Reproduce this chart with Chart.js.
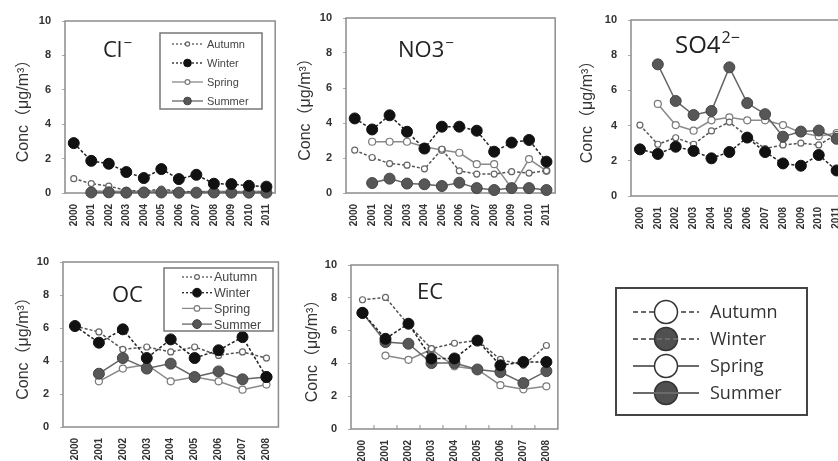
<!DOCTYPE html>
<html>
<head>
<meta charset="utf-8">
<script src="https://cdn.jsdelivr.net/npm/chart.js@4.4.1/dist/chart.umd.min.js"></script>
<style>
  html, body { margin: 0; padding: 0; background: #fff; }
  #wrap { position: relative; width: 838px; height: 461px; overflow: hidden; }
  canvas { position: absolute; }
</style>
</head>
<body>
<div id="wrap">
  <canvas id="cl" width="290" height="235" style="left:0;top:0"></canvas>
  <canvas id="no3" width="290" height="235" style="left:280px;top:0"></canvas>
  <canvas id="so4" width="300" height="235" style="left:560px;top:0"></canvas>
  <canvas id="oc" width="290" height="231" style="left:0;top:230px"></canvas>
  <canvas id="ec" width="280" height="231" style="left:290px;top:230px"></canvas>
  <canvas id="key" width="258" height="170" style="left:580px;top:270px"></canvas>
</div>
<script>
const years12 = ['2000', '2001', '2002', '2003', '2004', '2005', '2006', '2007', '2008', '2009', '2010', '2011'];
const years9 = ['2000', '2001', '2002', '2003', '2004', '2005', '2006', '2007', '2008'];
const seasons = ['Autumn', 'Winter', 'Spring', 'Summer'];
const yTicks = [0, 2, 4, 6, 8, 10];

// Cl-
const clAutumn = [0.83, 0.55, 0.4, 0.15, 0.1, 0.23, 0.1, 0.06, 0.05, 0.05, 0.05, 0.05];
const clWinter = [2.9, 1.87, 1.7, 1.22, 0.87, 1.39, 0.81, 1.06, 0.54, 0.52, 0.42, 0.37];
const clSpring = [null, 0.12, 0.1, 0.08, 0.1, 0.12, 0.08, 0.07, 0.1, 0.08, 0.08, 0.1];
const clSummer = [null, 0.03, 0.04, 0.02, 0.03, 0.03, 0.02, 0.02, 0.03, 0.02, 0.02, 0.02];

// NO3-
const no3Autumn = [2.45, 2.03, 1.68, 1.59, 1.38, 2.5, 1.27, 1.08, 1.08, 1.22, 1.14, 1.27];
const no3Winter = [4.26, 3.63, 4.44, 3.5, 2.54, 3.79, 3.79, 3.56, 2.36, 2.88, 3.03, 1.79];
const no3Spring = [null, 2.93, 2.93, 2.93, 2.64, 2.46, 2.3, 1.65, 1.65, 0.28, 1.94, 1.27];
const no3Summer = [null, 0.57, 0.82, 0.54, 0.5, 0.4, 0.59, 0.28, 0.17, 0.28, 0.28, 0.17];

// SO4 2-
const so4Autumn = [4.03, 2.94, 3.31, 2.94, 3.7, 4.2, 3.4, 2.7, 2.9, 3.0, 2.9, 3.5];
const so4Winter = [2.65, 2.39, 2.8, 2.56, 2.14, 2.5, 3.32, 2.5, 1.85, 1.72, 2.33, 1.45];
const so4Spring = [null, 5.23, 4.03, 3.71, 4.3, 4.47, 4.3, 4.3, 4.03, 3.6, 3.4, 3.58];
const so4Summer = [null, 7.48, 5.4, 4.6, 4.83, 7.31, 5.28, 4.65, 3.37, 3.66, 3.72, 3.25];

// OC
const ocAutumn = [6.12, 5.76, 4.7, 4.85, 4.55, 4.85, 4.34, 4.55, 4.18];
const ocWinter = [6.12, 5.11, 5.92, 4.18, 5.31, 4.18, 4.65, 5.45, 3.03];
const ocSpring = [null, 2.77, 3.54, 3.78, 2.77, 3.03, 2.77, 2.26, 2.57];
const ocSummer = [null, 3.23, 4.18, 3.54, 3.84, 3.03, 3.37, 2.89, 3.03];

// EC
const ecAutumn = [7.88, 8.02, 6.35, 4.9, 5.23, 5.39, 4.24, 3.88, 5.09];
const ecWinter = [7.08, 5.5, 6.42, 4.3, 4.3, 5.39, 3.88, 4.09, 4.09];
const ecSpring = [null, 4.48, 4.22, 4.85, 3.82, 3.63, 2.67, 2.42, 2.6];
const ecSummer = [7.08, 5.3, 5.2, 4.02, 4.02, 3.63, 3.47, 2.8, 3.53];

const seasonStyle = {
    Autumn: { borderColor: '#555555', borderDash: [3, 2], pointRadius: 3, pointBackgroundColor: '#ffffff', pointBorderColor: '#666666', pointBorderWidth: 1.2, order: 3 },
    Winter: { borderColor: '#222222', borderDash: [3, 2], pointRadius: 5.5, pointBackgroundColor: '#111111', pointBorderColor: '#111111', pointBorderWidth: 1, order: 1 },
    Spring: { borderColor: '#8a8a8a', borderDash: [], pointRadius: 3.5, pointBackgroundColor: '#ffffff', pointBorderColor: '#7a7a7a', pointBorderWidth: 1.2, order: 4 },
    Summer: { borderColor: '#666666', borderDash: [], pointRadius: 5.5, pointBackgroundColor: '#575757', pointBorderColor: '#444444', pointBorderWidth: 1, order: 2 },
};

const tickFont = { family: "'Liberation Sans', Arial, sans-serif", size: 11, weight: 'bold' };
const yearFont = { family: "'Liberation Sans', Arial, sans-serif", size: 10, weight: 'bold' };
const titleFamily = "'Open Sans', 'Noto Sans', sans-serif";

function makeDatasets(series) {
    return seasons.map((name, i) => Object.assign({
        label: name,
        data: series[i],
        borderWidth: 1.5,
        tension: 0,
        spanGaps: false,
        clip: false,
        pointHoverRadius: 0,
    }, seasonStyle[name]));
}

function drawLegend(ctx, L, datasets) {
    ctx.save();
    ctx.fillStyle = '#fff';
    ctx.fillRect(L.x, L.y, L.w, L.h);
    ctx.strokeStyle = L.frameColor;
    ctx.lineWidth = L.frameWidth;
    ctx.strokeRect(L.x, L.y, L.w, L.h);
    datasets.forEach((ds, i) => {
        const y = L.y + L.rowTop + i * L.rowH;
        const mx = (L.lineX0 + L.lineX1) / 2;
        const filled = ds.pointBackgroundColor !== '#ffffff';
        const r = L.radius ? L.radius : ds.pointRadius * L.markerScale;
        const line = () => {
            ctx.beginPath();
            ctx.setLineDash(ds.borderDash.length ? L.dash : []);
            ctx.strokeStyle = L.lineColor || ds.borderColor;
            ctx.lineWidth = L.lineWidth;
            ctx.moveTo(L.lineX0, y);
            ctx.lineTo(L.lineX1, y);
            ctx.stroke();
            ctx.setLineDash([]);
        };
        const mark = () => {
            ctx.beginPath();
            ctx.arc(mx, y, r, 0, Math.PI * 2);
            ctx.fillStyle = filled && L.fillColor ? L.fillColor : ds.pointBackgroundColor;
            ctx.fill();
            ctx.strokeStyle = L.markerStroke || ds.pointBorderColor;
            ctx.lineWidth = L.markerStrokeWidth || ds.pointBorderWidth;
            ctx.stroke();
        };
        if (filled && L.lineOverFilled) { mark(); line(); } else { line(); mark(); }
        ctx.fillStyle = L.textColor;
        ctx.font = L.font;
        ctx.textAlign = 'left';
        ctx.textBaseline = 'middle';
        ctx.fillText(ds.label, L.textX, y + 1);
    });
    ctx.restore();
}

const panelDecor = {
    id: 'panelDecor',
    beforeDatasetsDraw(chart, args, opts) {
        if (!opts.frame) return;
        const { ctx, chartArea: a } = chart;
        ctx.save();
        ctx.strokeStyle = '#8c8c8c';
        ctx.lineWidth = 1.5;
        ctx.strokeRect(a.left, a.top, a.right - a.left, a.bottom - a.top);
        if (opts.innerTicks) {
            const xs = chart.scales.x;
            ctx.lineWidth = 1;
            for (let i = 0; i < xs.ticks.length - 1; i++) {
                const px = (xs.getPixelForTick(i) + xs.getPixelForTick(i + 1)) / 2;
                ctx.beginPath();
                ctx.moveTo(px, a.bottom);
                ctx.lineTo(px, a.bottom - 4);
                ctx.stroke();
            }
        }
        ctx.restore();
    },
    afterDatasetsDraw(chart, args, opts) {
        const ctx = chart.ctx;
        if (opts.title) {
            const t = opts.title;
            ctx.save();
            ctx.fillStyle = '#222';
            ctx.textAlign = 'left';
            ctx.textBaseline = 'alphabetic';
            ctx.font = `${t.size}px ${titleFamily}`;
            ctx.fillText(t.main, t.x, t.y);
            const w = ctx.measureText(t.main).width;
            ctx.font = `${Math.round(t.size * 0.68)}px ${titleFamily}`;
            ctx.fillText(t.sup, t.x + w + 1, t.y - t.size * 0.42);
            ctx.restore();
        }
        if (opts.legend) drawLegend(ctx, opts.legend, chart.data.datasets);
    },
};

function panelOptions(p) {
    return {
        responsive: false,
        animation: false,
        events: [],
        layout: { padding: { top: p.padTop, right: p.padRight, left: 0, bottom: 0 } },
        plugins: {
            legend: { display: false },
            tooltip: { enabled: false },
            panelDecor: { frame: true, title: p.title, legend: p.legend || null, innerTicks: !!p.innerTicks },
        },
        scales: {
            x: {
                type: 'category',
                offset: true,
                grid: { display: false, drawTicks: false },
                border: { display: false },
                ticks: { minRotation: 90, maxRotation: 90, autoSkip: false, padding: 11, color: '#333', font: yearFont },
                afterFit: (s) => { s.height = p.xHeight; },
            },
            y: {
                min: 0,
                max: 10,
                afterBuildTicks: (s) => { s.ticks = yTicks.map(v => ({ value: v })); },
                grid: { display: true, drawOnChartArea: false, drawTicks: true, tickLength: 3, color: '#aaa' },
                border: { display: false },
                ticks: { padding: 11, color: '#333', font: tickFont },
                title: {
                    display: true,
                    text: 'Conc（μg/m³）',
                    color: '#333',
                    padding: { top: p.titleOffset, bottom: 0 },
                    font: { family: "'Liberation Sans', 'Noto Sans CJK JP', sans-serif", size: 16 },
                },
                afterFit: (s) => { s.width = p.yWidth; },
            },
        },
    };
}

function makePanel(id, labels, series, p) {
    return new Chart(document.getElementById(id), {
        type: 'line',
        data: { labels: labels, datasets: makeDatasets(series) },
        options: panelOptions(p),
        plugins: [panelDecor],
    });
}

makePanel('cl', years12, [clAutumn, clWinter, clSpring, clSummer], {
    padTop: 21, padRight: 14, yWidth: 65, xHeight: 42, titleOffset: 13.5,
    title: { main: 'Cl', sup: '−', size: 22, x: 103, y: 57 },
    legend: {
        x: 160, y: 33, w: 102, h: 76, rowTop: 11, rowH: 19,
        lineX0: 172, lineX1: 203, textX: 207, lineWidth: 1.3, dash: [2, 2], markerScale: 0.7,
        frameColor: '#777', frameWidth: 1.5, textColor: '#444',
        font: "11px 'Liberation Sans', Arial, sans-serif",
    },
});

makePanel('no3', years12, [no3Autumn, no3Winter, no3Spring, no3Summer], {
    padTop: 18, padRight: 13, yWidth: 66, xHeight: 42, titleOffset: 15.5,
    title: { main: 'NO3', sup: '−', size: 22, x: 118, y: 57 },
});

makePanel('so4', years12, [so4Autumn, so4Winter, so4Spring, so4Summer], {
    padTop: 20, padRight: 9, yWidth: 71, xHeight: 39, titleOffset: 17.5,
    title: { main: 'SO4', sup: '2−', size: 24, x: 115, y: 53 },
});

makePanel('oc', years9, [ocAutumn, ocWinter, ocSpring, ocSummer], {
    padTop: 32, padRight: 10, yWidth: 63, xHeight: 34, titleOffset: 13.5,
    title: { main: 'OC', sup: '', size: 22, x: 112, y: 72 },
    legend: {
        x: 164, y: 38, w: 109, h: 63, rowTop: 9, rowH: 15.7,
        lineX0: 182, lineX1: 212, textX: 214, lineWidth: 1.3, dash: [2, 2], markerScale: 0.8,
        frameColor: '#777', frameWidth: 1.5, textColor: '#444',
        font: "12.5px 'Liberation Sans', Arial, sans-serif",
    },
});

makePanel('ec', years9, [ecAutumn, ecWinter, ecSpring, ecSummer], {
    padTop: 35, padRight: 11, yWidth: 61, xHeight: 32, titleOffset: 12.5, innerTicks: true,
    title: { main: 'EC', sup: '', size: 22, x: 127, y: 69 },
});

// stand-alone key on the right
new Chart(document.getElementById('key'), {
    type: 'line',
    data: { labels: [], datasets: makeDatasets([[], [], [], []]) },
    options: {
        responsive: false,
        animation: false,
        events: [],
        plugins: {
            legend: { display: false },
            tooltip: { enabled: false },
            panelDecor: {
                frame: false,
                title: null,
                legend: {
                    x: 36, y: 18, w: 191, h: 127, rowTop: 24, rowH: 27,
                    lineX0: 53, lineX1: 119, textX: 130, lineWidth: 2.2, dash: [5, 3],
                    radius: 11.5, lineColor: '#6a6a6a', fillColor: '#505050', markerStroke: '#333', markerStrokeWidth: 1.5,
                    lineOverFilled: true, frameColor: '#444', frameWidth: 2, textColor: '#333',
                    font: "18px 'Open Sans', 'Noto Sans', sans-serif",
                },
            },
        },
        scales: { x: { display: false }, y: { display: false } },
    },
    plugins: [panelDecor],
});
</script>
</body>
</html>
